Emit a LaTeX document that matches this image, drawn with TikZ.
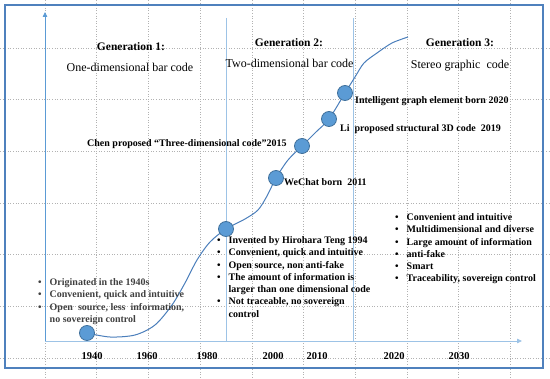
\documentclass[tikz,border=0pt]{standalone}
\usepackage{fontspec}
\setmainfont{Liberation Serif}
\usetikzlibrary{arrows.meta}
\definecolor{framecol}{RGB}{79,129,189}
\definecolor{axiscol}{RGB}{157,195,230}
\definecolor{yaxiscol}{RGB}{91,155,213}
\definecolor{curvecol}{RGB}{74,126,187}
\definecolor{dotfill}{RGB}{91,155,213}
\definecolor{dotline}{RGB}{65,113,156}
\newcommand{\bul}{\textbullet}

\begin{document}
\begin{tikzpicture}[x=1pt, y=-1pt,
  every node/.style={inner sep=0pt, font=\fontsize{10}{12.3}\selectfont\bfseries},
  milestone/.style={circle, fill=dotfill, draw=dotline, line width=0.8pt, minimum size=15pt},
  gentitle/.style={font=\fontsize{11.5}{14}\selectfont\bfseries, anchor=base},
  gensub/.style={font=\fontsize{12}{14}\selectfont, anchor=base},
  event/.style={anchor=base west},
  year/.style={font=\fontsize{10.5}{12}\selectfont\bfseries, anchor=base},
  bullets/.style={anchor=base west}]
  \useasboundingbox (0,0) rectangle (550,379);
  \foreach \i in {0,...,9} \draw[gray!60, line width=0.6pt, dotted] (45+51.7*\i,0) -- (45+51.7*\i,379);
  \foreach \j in {0,...,6} \draw[gray!60, line width=0.6pt, dotted] (0,48+51.7*\j) -- (550,48+51.7*\j);
  \draw[framecol, line width=1.3pt] (5,5) rectangle (543,368);
  \coordinate (origin) at (45,341);
  \coordinate (ytop) at (45,12);
  \coordinate (xend) at (522,341);
  \draw[yaxiscol, line width=0.8pt, -{Triangle[length=5pt,width=4.5pt]}] (origin) -- (ytop);
  \draw[axiscol, line width=0.8pt, -{Triangle[length=5pt,width=4.5pt]}] (origin) -- (xend);
  \draw[axiscol, line width=0.5pt] (226,18) -- (226,341);
  \draw[axiscol, line width=0.5pt] (353,18) -- (353,341);
  \coordinate (m1940) at (87,333);
  \coordinate (m1994) at (226,229);
  \coordinate (m2011) at (276,178);
  \coordinate (m2015) at (302,146);
  \coordinate (m2019) at (329,119);
  \coordinate (m2020) at (345,93);
  \draw[curvecol, line width=1pt] plot[smooth] coordinates {(m1940) (110,337) (135,335) (155,325) (172,305) (185,283) (197,260) (210,242) (m1994) (245,219) (258,210) (267,196) (m2011) (288,160) (m2015) (316,132) (m2019) (m2020) (355,77) (364,63) (377,53) (392,43) (408,37)};
  \foreach \m in {1940,1994,2011,2015,2019,2020} \node[milestone] (d\m) at (m\m) {};
  \node[gentitle] (gen1) at (131,51) {Generation 1:};
  \node[gensub] (sub1) at (130,72) {One-dimensional bar code};
  \node[gentitle] (gen2) at (289,47) {Generation 2:};
  \node[gensub] (sub2) at (289.5,68) {Two-dimensional bar code};
  \node[gentitle] (gen3) at (460,47) {Generation 3:};
  \node[gensub] (sub3) at (460,69) {Stereo graphic\ \ code};
  \node[event] (ev2015) at (87,147) {Chen proposed ``Three-dimensional code''2015};
  \node[event] (ev2011) at (284,185.5) {WeChat born\ \ 2011};
  \node[event] (ev2019) at (340,131.5) {Li\ \ proposed structural 3D code\ \ 2019};
  \node[event] (ev2020) at (355,103.5) {Intelligent graph element born 2020};
  \node[bullets, text=black!75] (list1) at (38,285.5) {\begin{tabular}[t]{@{}l@{\hspace{8pt}}l@{}}
    \bul & Originated in the 1940s\\
    \bul & Convenient, quick and intuitive\\
    \bul & Open\ \ source, less\ \ information,\\
         & no sovereign control
  \end{tabular}};
  \node[bullets] (list2) at (217,243.5) {\begin{tabular}[t]{@{}l@{\hspace{8pt}}l@{}}
    \bul & Invented by Hirohara Teng 1994\\
    \bul & Convenient, quick and intuitive\\
    \bul & Open source, non anti-fake\\
    \bul & The amount of information is\\
         & larger than one dimensional code\\
    \bul & Not traceable, no sovereign\\
         & control
  \end{tabular}};
  \node[bullets] (list3) at (395,220.5) {\begin{tabular}[t]{@{}l@{\hspace{8pt}}l@{}}
    \bul & Convenient and intuitive\\
    \bul & Multidimensional and diverse\\
    \bul & Large amount of information\\
    \bul & anti-fake\\
    \bul & Smart\\
    \bul & Traceability, sovereign control
  \end{tabular}};
  \foreach \yr/\x in {1940/92,1960/147,1980/207,2000/273,2010/317,2020/394,2030/459}
    \node[year] (yr\yr) at (\x,359.5) {\yr};
\end{tikzpicture}
\end{document}
